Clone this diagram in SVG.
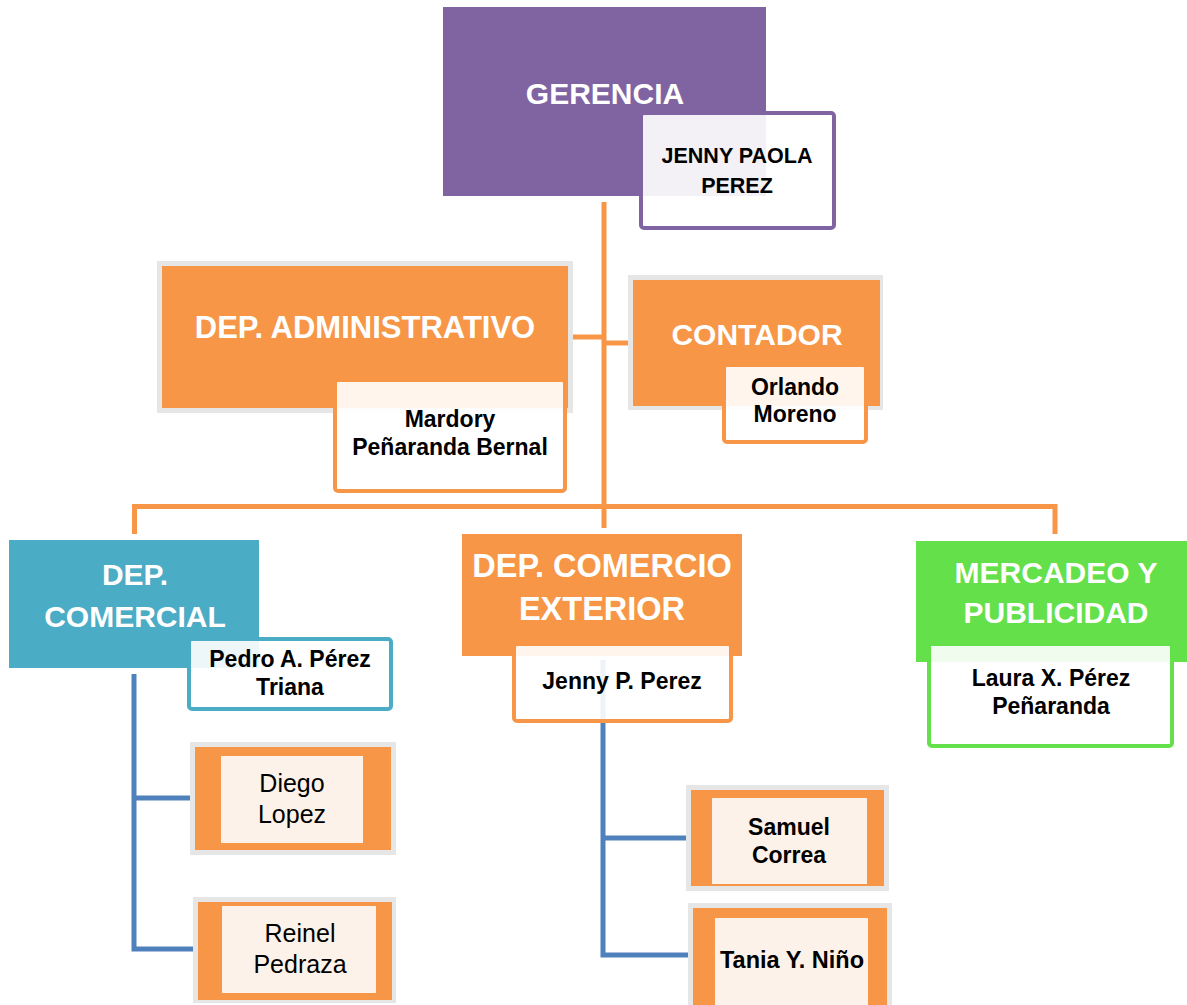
<svg xmlns="http://www.w3.org/2000/svg" width="1187" height="1005" viewBox="0 0 1187 1005">
<style>
.hd{font-family:"Liberation Sans",Arial,sans-serif;font-weight:bold;font-size:30px;fill:#fff;text-anchor:middle}
.nm{font-family:"Liberation Sans",Arial,sans-serif;font-weight:bold;font-size:23px;fill:#000;text-anchor:middle}
.nr{font-family:"Liberation Sans",Arial,sans-serif;font-size:25px;fill:#000;text-anchor:middle}
.ob{fill:#F79646}
.gb{fill:#E6E6E6}
.cr{fill:#FDF2E9}
.nb{fill:#fff;fill-opacity:0.9;stroke-width:4}
.oc{fill:none;stroke:#F79646;stroke-width:5}
.bc{fill:none;stroke:#4F81BD;stroke-width:5}
</style>
<rect width="1187" height="1005" fill="#fff"/>
<g id="connectors">
<path class="oc" d="M604,202 V528"/>
<path class="oc" d="M573,337 H604"/>
<path class="oc" d="M604,343 H628"/>
<path class="oc" d="M134.5,534 V506.5 H1055 V534"/>
<path class="bc" d="M134,674 V949 H196"/>
<path class="bc" d="M134,798 H190"/>
<path class="bc" d="M603,660 V955 H690"/>
<path class="bc" d="M603,838 H687"/>
</g>
<g id="gerencia">
<rect x="443" y="7" width="323" height="189" fill="#8064A2"/>
<text class="hd" x="605" y="104">GERENCIA</text>
<rect class="nb" x="641" y="113" width="193" height="115" rx="3" stroke="#8064A2"/>
<text class="nm" x="737" y="163" style="font-size:21.5px">JENNY PAOLA</text>
<text class="nm" x="737" y="193" style="font-size:21.5px">PEREZ</text>
</g>
<g id="dep-administrativo">
<rect class="gb" x="157" y="261" width="416" height="152"/>
<rect class="ob" x="162" y="266" width="406" height="142"/>
<text class="hd" x="365" y="338" style="font-size:31px">DEP. ADMINISTRATIVO</text>
<rect class="nb" x="335" y="380" width="230" height="111" rx="3" stroke="#F79646"/>
<text class="nm" x="450" y="427">Mardory</text>
<text class="nm" x="450" y="455">Peñaranda Bernal</text>
</g>
<g id="contador">
<rect class="gb" x="628" y="275" width="255" height="135"/>
<rect class="ob" x="633" y="280" width="247" height="126"/>
<text class="hd" x="757" y="345">CONTADOR</text>
<rect class="nb" x="724" y="365" width="142" height="77" rx="3" stroke="#F79646"/>
<text class="nm" x="795" y="395">Orlando</text>
<text class="nm" x="795" y="422">Moreno</text>
</g>
<g id="dep-comercial">
<rect x="9" y="540" width="250" height="128" fill="#4BACC6"/>
<text class="hd" x="135" y="585">DEP.</text>
<text class="hd" x="135" y="627">COMERCIAL</text>
<rect class="nb" x="189" y="639" width="202" height="70" rx="3" stroke="#4BACC6"/>
<text class="nm" x="290" y="667">Pedro A. Pérez</text>
<text class="nm" x="290" y="695">Triana</text>
</g>
<g id="diego-lopez">
<rect class="gb" x="190" y="742" width="206" height="113"/>
<rect class="ob" x="195" y="747" width="196" height="103"/>
<rect class="cr" x="221" y="756" width="142" height="87"/>
<text class="nr" x="292" y="792">Diego</text>
<text class="nr" x="292" y="823">Lopez</text>
</g>
<g id="reinel-pedraza">
<rect class="gb" x="193" y="897" width="203" height="106"/>
<rect class="ob" x="198" y="902" width="194" height="98"/>
<rect class="cr" x="222" y="906" width="154" height="87"/>
<text class="nr" x="300" y="942">Reinel</text>
<text class="nr" x="300" y="973">Pedraza</text>
</g>
<g id="dep-comercio-exterior">
<rect class="ob" x="462" y="534" width="280" height="122"/>
<text class="hd" x="602" y="577" style="font-size:32.5px">DEP. COMERCIO</text>
<text class="hd" x="602" y="620" style="font-size:32.5px">EXTERIOR</text>
<rect class="nb" x="514" y="644" width="217" height="77" rx="3" stroke="#F79646"/>
<text class="nm" x="622" y="689">Jenny P. Perez</text>
</g>
<g id="samuel-correa">
<rect class="gb" x="686" y="785" width="203" height="106"/>
<rect class="ob" x="691" y="790" width="193" height="96"/>
<rect class="cr" x="712" y="798" width="155" height="86"/>
<text class="nm" x="789" y="835">Samuel</text>
<text class="nm" x="789" y="863">Correa</text>
</g>
<g id="tania-nino">
<rect class="gb" x="688" y="903" width="204" height="110"/>
<rect class="ob" x="693" y="908" width="194" height="105"/>
<rect class="cr" x="715" y="918" width="153" height="95"/>
<text class="nm" x="792" y="968" style="font-size:23.5px">Tania Y. Niño</text>
</g>
<g id="mercadeo-publicidad">
<rect x="916" y="541" width="271" height="121" fill="#64E04A"/>
<text class="hd" x="1056" y="583">MERCADEO Y</text>
<text class="hd" x="1056" y="623">PUBLICIDAD</text>
<rect class="nb" x="929" y="644" width="243" height="102" rx="3" stroke="#64E04A"/>
<text class="nm" x="1051" y="686">Laura X. Pérez</text>
<text class="nm" x="1051" y="714">Peñaranda</text>
</g>
</svg>
